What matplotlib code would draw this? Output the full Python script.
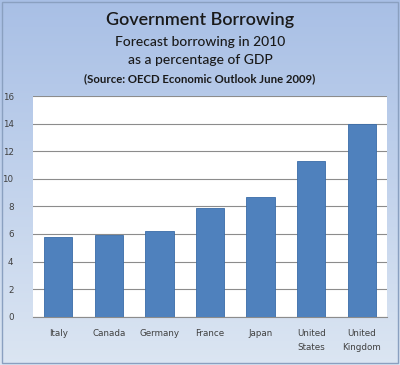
import numpy as np
import matplotlib.pyplot as plt
from matplotlib.patches import Rectangle

# data
countries = ["Italy", "Canada", "Germany", "France", "Japan", "United\nStates", "United\nKingdom"]
borrowing = [5.8, 5.9, 6.2, 7.9, 8.7, 11.3, 14.0]
yticks = [0, 2, 4, 6, 8, 10, 12, 14, 16]

plt.rcParams['font.family'] = ['Lato', 'DejaVu Sans']

fig = plt.figure(figsize=(4, 3.65), dpi=100)

# gradient background over the whole figure
bg = fig.add_axes([0, 0, 1, 1], zorder=0)
top = np.array([0.66, 0.75, 0.90])
bottom = np.array([0.86, 0.90, 0.95])
t = np.linspace(0, 1, 256)[:, None]
grad = top * (1 - t) + bottom * t
bg.imshow(grad[:, None, :], aspect='auto', extent=[0, 1, 0, 1])
bg.add_patch(Rectangle((0.006, 0.006), 0.988, 0.988, fill=False, edgecolor='#8aa0c0', lw=1))
bg.set_xlim(0, 1)
bg.set_ylim(0, 1)
bg.axis('off')

fig.text(0.5, 0.945, "Government Borrowing", ha='center', va='center', fontsize=13,
         fontweight='semibold', color='#1a1a1a')
fig.text(0.5, 0.885, "Forecast borrowing in 2010", ha='center', va='center', fontsize=10,
         fontweight='medium', color='#1a1a1a')
fig.text(0.5, 0.835, "as a percentage of GDP", ha='center', va='center', fontsize=10,
         fontweight='medium', color='#1a1a1a')
fig.text(0.5, 0.785, "(Source: OECD Economic Outlook June 2009)", ha='center', va='center',
         fontsize=8.2, fontweight='bold', color='#1a1a1a')

ax = fig.add_axes([33 / 400, 1 - 316.7 / 365, 354 / 400, 220.7 / 365], zorder=1)
ax.set_facecolor('white')
x = np.arange(len(countries))
ax.bar(x, borrowing, width=0.56, color='#4f81bd', edgecolor='#3a6ca8', linewidth=0.6, zorder=3)
ax.set_xlim(-0.5, len(countries) - 0.5)
ax.set_ylim(0, 16)
ax.set_yticks(yticks)
ax.yaxis.grid(True, color='#8c8c8c', linewidth=0.8, zorder=0)
ax.set_xticks(x)
ax.set_xticklabels(countries, fontsize=6.3, color='#404040', linespacing=1.7, family='DejaVu Sans')
for lab in ax.get_yticklabels():
    lab.set_family('DejaVu Sans')
ax.tick_params(axis='y', labelsize=6.3, labelcolor='#404040', length=0, pad=14)
ax.tick_params(axis='x', length=0, pad=9)
for s in ['top', 'right', 'left']:
    ax.spines[s].set_visible(False)
ax.spines['bottom'].set_color('#8c8c8c')

fig.savefig("out.png", dpi=100)
